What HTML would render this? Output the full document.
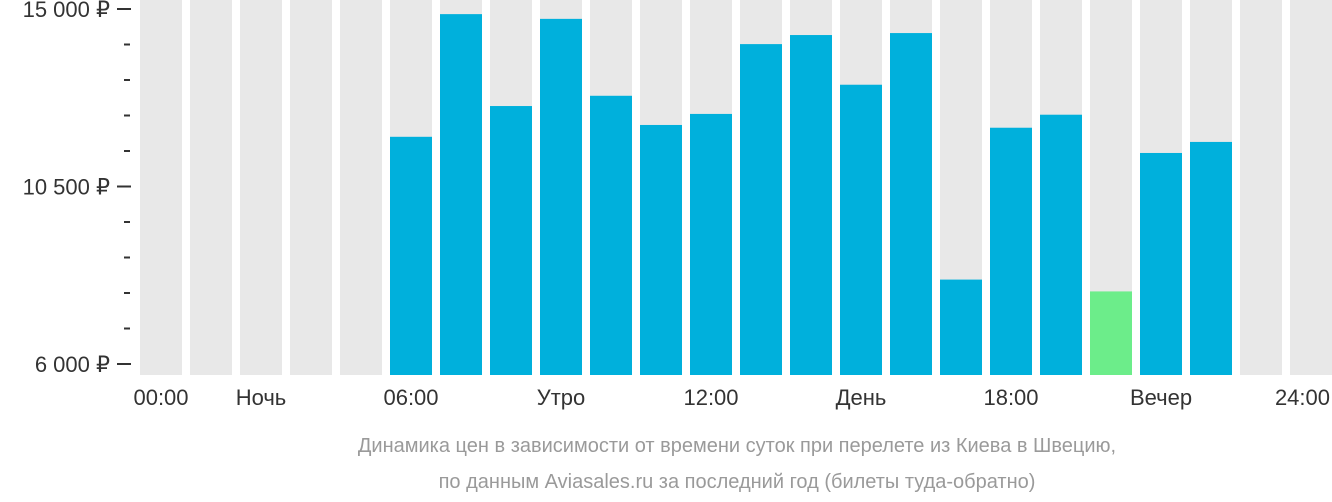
<!DOCTYPE html>
<html><head><meta charset="utf-8"><style>
html,body{margin:0;padding:0;background:#fff;}
svg{display:block;font-family:"Liberation Sans","DejaVu Sans",sans-serif;}
</style></head><body>
<svg id="chart" width="1332" height="502" viewBox="0 0 1332 502" xmlns="http://www.w3.org/2000/svg">
<g id="bg"></g>
<g id="bars"></g>
<g id="yaxis"></g>
<g id="xaxis"></g>
<text x="737" y="452" text-anchor="middle" font-size="20" fill="#9a9a9a">Динамика цен в зависимости от времени суток при перелете из Киева в Швецию,</text>
<text x="737" y="488" text-anchor="middle" font-size="20" fill="#9a9a9a">по данным Aviasales.ru за последний год (билеты туда-обратно)</text>
</svg>
<script>
const hours = [0,1,2,3,4,5,6,7,8,9,10,11,12,13,14,15,16,17,18,19,20,21,22,23];
const prices = [null,null,null,null,null,11760,14870,12540,14750,12800,12060,12340,14110,14340,13080,14390,8140,11990,12320,7840,11350,11630,null,null];
const highlightHour = 19;
const yTickValues = [6000,10500,15000];
const yTickLabels = ["6 000 ₽","10 500 ₽","15 000 ₽"];
const yMinorValues = [6900,7800,8700,9600,11400,12300,13200,14100];
const xLabelHours = [0,2,5,8,11,14,17,20];
const xLabels = ["00:00","Ночь","06:00","Утро","12:00","День","18:00","Вечер"];

const NS="http://www.w3.org/2000/svg";
const x0=140, pitch=50, bw=42, base=375;
function y(v){return 9+(15000-v)*(355/9000);}
function x(h){return x0+h*pitch;}
function mk(tag,attrs,parent,txt){const e=document.createElementNS(NS,tag);for(const k in attrs)e.setAttribute(k,attrs[k]);if(txt!==undefined)e.textContent=txt;parent.appendChild(e);return e;}
const bg=document.getElementById('bg'),bars=document.getElementById('bars'),ya=document.getElementById('yaxis'),xa=document.getElementById('xaxis');
hours.forEach((h,i)=>{
  const r=mk('rect',{x:x(h),y:0,width:bw,height:base,fill:'#e8e8e8'},bg);
  
  
  const p=prices[i];
  if(p!==null){
    const b=mk('rect',{x:x(h),y:y(p),width:bw,height:base-y(p),fill:h===highlightHour?'#6ced8a':'#00b0dc'},bars);
    
    
  }
});
yTickValues.forEach((v,i)=>{
  const t=mk('text',{x:110,y:y(v)+8,'text-anchor':'end','font-size':22,fill:'#333'},ya,yTickLabels[i]);
  
  
  const l=mk('rect',{x:117,y:y(v)-1,width:14,height:2,fill:'#333'},ya);
  
  
});
yMinorValues.forEach(v=>{
  const l=mk('rect',{x:124,y:y(v)-1,width:6,height:2,fill:'#333'},ya);
  
  
});
xLabelHours.forEach((h,i)=>{
  const t=mk('text',{x:x(h)+bw/2,y:405,'text-anchor':'middle','font-size':22,fill:'#333'},xa,xLabels[i]);
  
  
});
const last=mk('text',{x:1330,y:405,'text-anchor':'end','font-size':22,fill:'#333'},xa,'24:00');


</script>
</body></html>
